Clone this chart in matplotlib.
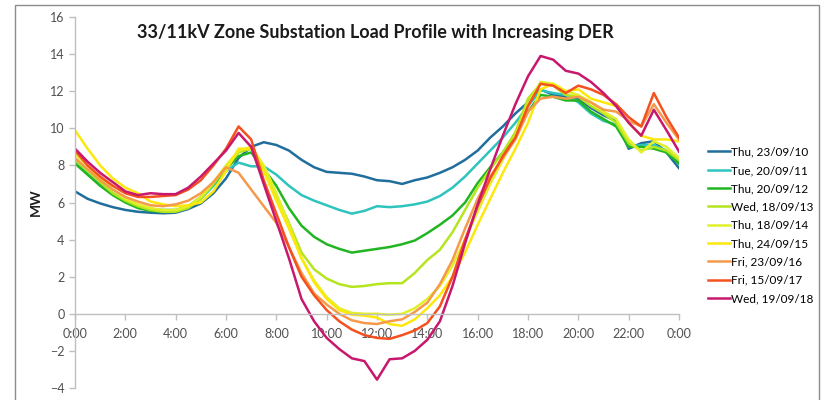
import numpy as np
import matplotlib
matplotlib.use('Agg')
import matplotlib.pyplot as plt
from matplotlib.patches import Rectangle

# half-hourly slots, 0:00 .. 24:00
hours = np.arange(49) / 2.0

labels = ['Thu, 23/09/10', 'Tue, 20/09/11', 'Thu, 20/09/12', 'Wed, 18/09/13', 'Thu, 18/09/14',
          'Thu, 24/09/15', 'Fri, 23/09/16', 'Fri, 15/09/17', 'Wed, 19/09/18']
colors = ['#1f6e9c', '#2ec4bd', '#22b522', '#b4e51e', '#e2f02a',
          '#fde80c', '#f59a4a', '#f5501e', '#c8186e']

mw_2010 = [6.6, 6.2, 5.95, 5.75, 5.6, 5.5, 5.45, 5.42, 5.45, 5.65,
           5.95, 6.5, 7.3, 8.4, 9.0, 9.25, 9.1, 8.8, 8.3, 7.9,
           7.65, 7.6, 7.55, 7.4, 7.2, 7.15, 7.0, 7.2, 7.35, 7.6,
           7.9, 8.3, 8.8, 9.5, 10.1, 10.8, 11.4, 12.1, 11.8, 11.7,
           11.6, 11.1, 10.7, 10.4, 8.9, 9.2, 9.3, 8.7, 7.85]
mw_2011 = [8.2, 7.6, 7.0, 6.5, 6.1, 5.8, 5.65, 5.6, 5.6, 5.8,
           6.2, 6.9, 7.7, 8.15, 7.95, 7.95, 7.5, 6.9, 6.4, 6.1,
           5.85, 5.6, 5.4, 5.55, 5.8, 5.75, 5.8, 5.9, 6.05, 6.35,
           6.8, 7.4, 8.1, 8.8, 9.5, 10.3, 11.2, 12.05, 11.9, 11.8,
           11.4, 10.8, 10.4, 10.2, 9.0, 9.1, 9.1, 8.8, 8.1]
mw_2012 = [8.1, 7.5, 6.9, 6.4, 6.0, 5.7, 5.55, 5.5, 5.55, 5.8,
           6.3, 7.0, 7.8, 8.5, 8.7, 7.8, 6.9, 5.7, 4.75, 4.15,
           3.75, 3.5, 3.3, 3.4, 3.5, 3.6, 3.75, 3.95, 4.35, 4.8,
           5.3, 6.0, 7.05, 7.9, 8.7, 9.6, 10.9, 11.8, 11.7, 11.5,
           11.5, 10.9, 10.5, 10.1, 9.0, 9.0, 8.9, 8.7, 8.1]
mw_2013 = [8.3, 7.7, 7.1, 6.5, 6.1, 5.8, 5.6, 5.5, 5.5, 5.7,
           6.2, 7.0, 7.9, 8.7, 8.9, 7.9, 6.4, 4.9, 3.3, 2.4,
           1.9, 1.6, 1.45, 1.5, 1.6, 1.65, 1.65, 2.2, 2.9, 3.45,
           4.4, 5.6, 6.8, 7.8, 8.7, 9.8, 11.6, 12.4, 12.3, 11.8,
           11.7, 11.2, 10.8, 10.3, 9.2, 8.8, 9.0, 8.8, 8.3]
mw_2014 = [8.6, 8.0, 7.3, 6.7, 6.2, 5.9, 5.7, 5.6, 5.6, 5.8,
           6.3, 7.1, 8.0, 8.8, 9.0, 8.0, 6.5, 4.8, 3.0, 1.8,
           0.9, 0.3, 0.05, 0.0, 0.0, -0.05, 0.0, 0.3, 0.8, 1.5,
           2.6, 4.0, 5.5, 7.0, 8.3, 9.6, 11.3, 12.5, 12.4, 12.0,
           11.8, 11.4, 10.9, 10.5, 9.4, 8.7, 9.3, 9.0, 8.4]
mw_2015 = [9.9, 8.9, 8.0, 7.3, 6.8, 6.5, 6.05, 5.9, 5.8, 5.85,
           6.0, 6.6, 7.7, 8.9, 8.9, 7.7, 6.1, 4.6, 3.0, 1.7,
           0.8, 0.2, -0.05, -0.1, -0.2, -0.55, -0.65, -0.3, 0.3, 1.0,
           2.0, 3.3, 4.8, 6.2, 7.6, 8.9, 10.3, 12.1, 12.4, 12.0,
           12.1, 11.6, 11.4, 11.2, 10.3, 9.6, 9.4, 9.4, 9.3]
mw_2016 = [8.4, 7.8, 7.2, 6.7, 6.3, 6.05, 5.85, 5.8, 5.9, 6.1,
           6.5, 7.1, 7.9, 7.6, 6.7, 5.8, 4.9, 3.6, 2.2, 1.1,
           0.5, 0.0, -0.35, -0.5, -0.55, -0.4, -0.3, 0.1, 0.6, 1.6,
           2.9, 4.6, 6.2, 7.4, 8.4, 9.4, 10.9, 11.6, 11.7, 11.6,
           11.7, 11.4, 11.0, 10.9, 10.4, 10.1, 11.3, 10.3, 9.4]
mw_2017 = [8.8, 8.0, 7.4, 6.9, 6.5, 6.3, 6.3, 6.35, 6.4, 6.7,
           7.2, 8.0, 8.9, 10.1, 9.4, 7.2, 5.4, 3.6, 2.0, 1.0,
           0.2, -0.4, -0.85, -1.15, -1.3, -1.35, -1.15, -0.9, -0.5, 0.4,
           2.0, 4.0, 5.8, 7.3, 8.5, 9.5, 11.2, 12.4, 12.3, 11.9,
           12.3, 12.1, 11.8, 11.3, 10.6, 10.1, 11.9, 10.6, 9.5]
mw_2018 = [8.9, 8.2, 7.6, 7.1, 6.6, 6.4, 6.5, 6.45, 6.45, 6.8,
           7.4, 8.1, 8.8, 9.75, 9.0, 7.0, 5.0, 3.0, 0.8, -0.4,
           -1.3, -1.9, -2.4, -2.55, -3.55, -2.45, -2.4, -2.0, -1.4, -0.4,
           1.5, 3.8, 5.9, 7.8, 9.6, 11.3, 12.8, 13.9, 13.7, 13.1,
           12.95, 12.5, 11.9, 11.2, 10.3, 9.6, 11.0, 9.9, 8.75]

series = [mw_2010, mw_2011, mw_2012, mw_2013, mw_2014, mw_2015, mw_2016, mw_2017, mw_2018]

xtick_pos = list(range(0, 25, 2))
xtick_labels = ['0:00', '2:00', '4:00', '6:00', '8:00', '10:00', '12:00',
                '14:00', '16:00', '18:00', '20:00', '22:00', '0:00']

plt.rcParams['font.family'] = ['Lato', 'DejaVu Sans']

fig = plt.figure(figsize=(8.21, 4.0), dpi=100)
fig.patches.append(Rectangle((15 / 821, -0.05), 804 / 821, 1.05 - 4.5 / 400,
                             transform=fig.transFigure, fill=False,
                             edgecolor='#8c8c8c', lw=1.0))

ax = fig.add_axes([75 / 821, 12 / 400, 604 / 821, 371 / 400])
for vals, lab, col in zip(series, labels, colors):
    ax.plot(hours, vals, color=col, lw=1.8, label=lab, solid_joinstyle='round')

ax.set_xlim(0, 24)
ax.set_ylim(-4, 16)
ax.set_yticks(range(-4, 17, 2))
ax.set_xticks(xtick_pos)
ax.set_xticklabels(xtick_labels)

ax.spines['top'].set_visible(False)
ax.spines['right'].set_visible(False)
ax.spines['bottom'].set_position(('data', 0))
for s in ('left', 'bottom'):
    ax.spines[s].set_color('#bfbfbf')
    ax.spines[s].set_linewidth(1.0)
ax.tick_params(colors='#bfbfbf', labelcolor='#505050', labelsize=9, length=4, width=1)
ax.tick_params(axis='x', pad=6)

ax.set_ylabel('MW', fontsize=10, fontweight='bold', color='#202020', labelpad=6)
ax.text(0.497, 0.957, '33/11kV Zone Substation Load Profile with Increasing DER',
        transform=ax.transAxes, ha='center', va='center',
        fontsize=13, fontweight='bold', color='#1a1a1a')

ax.legend(loc='upper left', bbox_to_anchor=(697 / 821, 1 - 136 / 400),
          bbox_transform=fig.transFigure, frameon=False, fontsize=8.5,
          handlelength=1.9, handletextpad=0.1, labelspacing=0.62)

fig.savefig('out.png', dpi=100)
